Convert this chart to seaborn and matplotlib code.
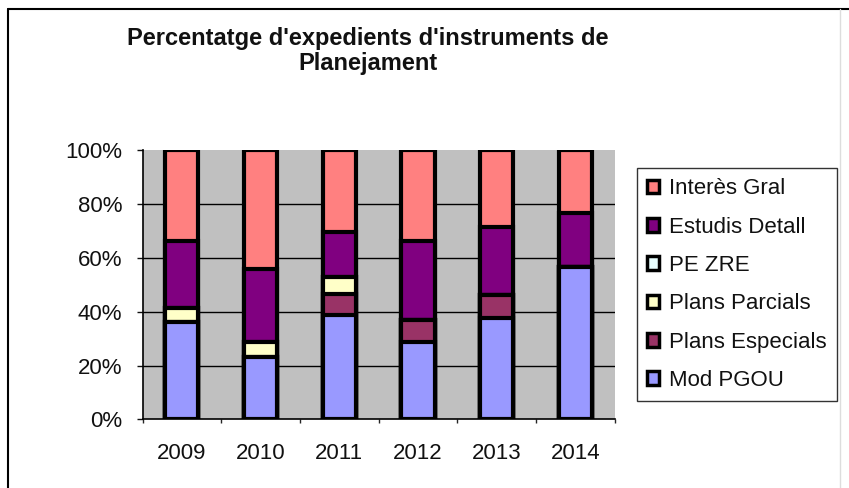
import numpy as np
import pandas as pd
import matplotlib
matplotlib.use("Agg")
import matplotlib.pyplot as plt
import seaborn as sns
from matplotlib.lines import Line2D
from matplotlib.patches import Patch

# Data (percent of files per year)
years = ['2009', '2010', '2011', '2012', '2013', '2014']
mod_pgou = [36.3, 23.1, 38.8, 28.9, 37.5, 56.7]
plans_especials = [0.0, 0.0, 7.6, 8.0, 8.7, 0.0]
plans_parcials = [5.0, 5.8, 6.4, 0.0, 0.0, 0.0]
pe_zre = [0.0, 0.0, 0.0, 0.0, 0.0, 0.0]
estudis_detall = [24.9, 26.8, 16.9, 29.3, 25.3, 19.8]
interes_gral = [33.8, 44.3, 30.3, 33.8, 28.5, 23.5]

series = ['Mod PGOU', 'Plans Especials', 'Plans Parcials', 'PE ZRE', 'Estudis Detall', 'Interès Gral']
colors = ['#9999FF', '#993366', '#FFFFC8', '#E8FFFF', '#800080', '#FF8080']

df = pd.DataFrame({'Year': years, 'Mod PGOU': mod_pgou, 'Plans Especials': plans_especials,
                   'Plans Parcials': plans_parcials, 'PE ZRE': pe_zre,
                   'Estudis Detall': estudis_detall, 'Interès Gral': interes_gral})
cum = df[series].cumsum(axis=1)

sns.set_style("white")
plt.rcParams['font.family'] = ['Liberation Sans', 'DejaVu Sans']

fig = plt.figure(figsize=(8.49, 4.88), dpi=100)
ax = fig.add_axes([0.168, 0.1404, 0.556, 0.5522])
ax.set_facecolor('#C0C0C0')

# draw cumulative totals from the top series down so lower ones cover the rest
for name, col in reversed(list(zip(series, colors))):
    sns.barplot(x=df['Year'], y=cum[name], color=col, width=0.42, ax=ax,
                edgecolor='black', linewidth=3, saturation=1, zorder=3)

ax.set_ylim(0, 100)
ax.set_xlim(-0.5, 5.5)
ax.set_xlabel('')
ax.set_ylabel('')

for v in [20, 40, 60, 80]:
    ax.axhline(v, color='black', lw=1, zorder=1)

ax.set_yticks([0, 20, 40, 60, 80, 100])
ax.set_yticklabels([f'{v}%' for v in [0, 20, 40, 60, 80, 100]])
ax.tick_params(axis='y', length=4.5, width=1, pad=10, labelsize=16, colors='#111111', left=True)

ax.set_xticks(range(6))
ax.set_xticklabels(years)
ax.tick_params(axis='x', which='major', length=0, pad=17, labelsize=16, colors='#111111')
ax.set_xticks(np.arange(-0.5, 6.0, 1.0), minor=True)
ax.tick_params(axis='x', which='minor', length=3, width=1, bottom=True)

for s in ['top', 'right']:
    ax.spines[s].set_visible(False)
for s in ['left', 'bottom']:
    ax.spines[s].set_color('black')
    ax.spines[s].set_linewidth(1.2)

fig.text(0.433, 0.945, "Percentatge d'expedients d'instruments de\nPlanejament",
         ha='center', va='top', fontsize=17, fontweight='bold', linespacing=1.1, color='#111111')

handles = [Patch(facecolor=c, edgecolor='black', linewidth=2.5, label=n)
           for n, c in zip(series, colors)][::-1]
leg = fig.legend(handles=handles, loc='upper left', bbox_to_anchor=(0.750, 0.655),
                 fontsize=16, frameon=True, fancybox=False, edgecolor='black',
                 handlelength=0.55, handleheight=0.55, handletextpad=0.45,
                 labelspacing=0.78, borderpad=0.45, borderaxespad=0)
leg.get_frame().set_linewidth(1)
for t in leg.get_texts():
    t.set_color('#111111')

# outer chart border
fig.add_artist(Line2D([8/849, 8/849], [0, 1 - 9/488], color='black', lw=1.5, transform=fig.transFigure))
fig.add_artist(Line2D([8/849, 1], [1 - 9/488, 1 - 9/488], color='black', lw=1.5, transform=fig.transFigure))
fig.add_artist(Line2D([840/849, 840/849], [0, 1 - 9/488], color='#DDDDDD', lw=1, transform=fig.transFigure))

fig.savefig('out.png', dpi=100)
